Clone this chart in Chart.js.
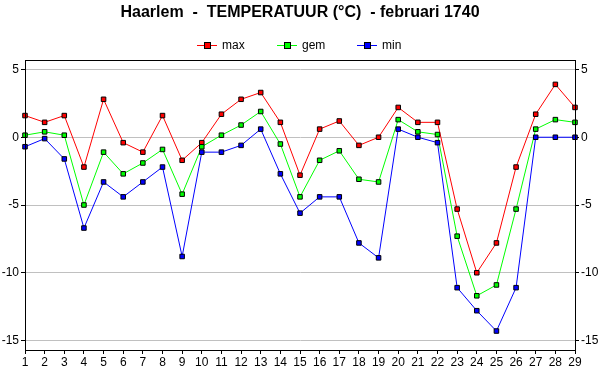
<!DOCTYPE html>
<html>
<head>
<meta charset="utf-8">
<script src="https://cdn.jsdelivr.net/npm/chart.js@4"></script>
<style>
  body { margin: 0; background: #fff; }
  #wrap { width: 600px; height: 390px; }
</style>
</head>
<body>
<div id="wrap"><canvas id="grafiek"></canvas></div>
<script>
// dagen van februari 1740
const dagen = ["1","2","3","4","5","6","7","8","9","10","11","12","13","14","15","16","17","18","19","20","21","22","23","24","25","26","27","28","29"];
const tMax = [1.6, 1.1, 1.6, -2.2, 2.8, -0.4, -1.1, 1.6, -1.7, -0.4, 1.7, 2.8, 3.3, 1.1, -2.8, 0.6, 1.2, -0.6, 0.0, 2.2, 1.1, 1.1, -5.3, -10.0, -7.8, -2.2, 1.7, 3.9, 2.2];
const tGem = [0.15, 0.4, 0.15, -5.0, -1.1, -2.7, -1.9, -0.9, -4.2, -0.7, 0.15, 0.9, 1.9, -0.5, -4.4, -1.7, -1.0, -3.1, -3.3, 1.3, 0.4, 0.2, -7.3, -11.7, -10.9, -5.3, 0.6, 1.3, 1.1];
const tMin = [-0.7, -0.1, -1.6, -6.7, -3.3, -4.4, -3.3, -2.2, -8.8, -1.1, -1.1, -0.6, 0.6, -2.7, -5.6, -4.4, -4.4, -7.8, -8.9, 0.6, 0.0, -0.4, -11.1, -12.8, -14.3, -11.1, 0.0, 0.0, 0.0];
const yTicks = [-15, -10, -5, 0, 5];

const fontNaam = "'Liberation Sans', Arial, sans-serif";

// legenda en kader zelf tekenen
const legendaPlugin = {
    id: "legenda",
    afterDraw(chart) {
        const ctx = chart.ctx;
        const ca = chart.chartArea;
        ctx.save();
        ctx.strokeStyle = "#000";
        ctx.lineWidth = 1;
        ctx.strokeRect(Math.round(ca.left) + 0.5, Math.round(ca.top) + 0.5,
            Math.round(ca.right - ca.left), Math.round(ca.bottom - ca.top));

        const y = 45;
        const items = [
            { tekst: "max", kleur: "#ff0000", x: 197 },
            { tekst: "gem", kleur: "#00ff00", x: 277 },
            { tekst: "min", kleur: "#0000ff", x: 357 }
        ];
        ctx.font = "12px " + fontNaam;
        ctx.textBaseline = "middle";
        items.forEach(it => {
            ctx.strokeStyle = it.kleur;
            ctx.beginPath();
            ctx.moveTo(it.x, y + 0.5);
            ctx.lineTo(it.x + 20, y + 0.5);
            ctx.stroke();
            ctx.fillStyle = it.kleur;
            ctx.fillRect(it.x + 8, y - 2, 5, 5);
            ctx.strokeStyle = "#000";
            ctx.strokeRect(it.x + 7.5, y - 2.5, 6, 6);
            ctx.fillStyle = "#000";
            ctx.fillText(it.tekst, it.x + 25, y + 1);
        });
        ctx.restore();
    }
};

function reeks(label, data, kleur) {
    return {
        label: label,
        data: data,
        borderColor: kleur,
        borderWidth: 1,
        backgroundColor: kleur,
        pointStyle: "rect",
        pointRadius: 3.2,
        pointBackgroundColor: kleur,
        pointBorderColor: "#000",
        pointBorderWidth: 1,
        tension: 0,
        fill: false
    };
}

document.addEventListener("DOMContentLoaded", () => {
    const ctx = document.getElementById("grafiek").getContext("2d");
    Chart.defaults.font.family = fontNaam;
    Chart.defaults.color = "#000";
    new Chart(ctx, {
        type: "line",
        data: {
            labels: dagen,
            datasets: [
                reeks("min", tMin, "#0000ff"),
                reeks("gem", tGem, "#00ff00"),
                reeks("max", tMax, "#ff0000")
            ]
        },
        options: {
            responsive: true,
            maintainAspectRatio: false,
            animation: false,
            layout: {
                padding: { left: 0, right: 0, top: 0, bottom: 18 }
            },
            plugins: {
                legend: { display: false },
                tooltip: { enabled: false },
                title: {
                    display: true,
                    text: "Haarlem  -  TEMPERATUUR (°C)  - februari 1740",
                    color: "#000",
                    font: { size: 16, weight: "bold" },
                    lineHeight: 1.2,
                    padding: { top: 3, bottom: 37.8 }
                }
            },
            scales: {
                x: {
                    offset: false,
                    grid: {
                        drawOnChartArea: false,
                        drawTicks: true,
                        tickLength: 4,
                        tickColor: "#000"
                    },
                    border: { display: true, color: "#000" },
                    ticks: {
                        autoSkip: false,
                        maxRotation: 0,
                        padding: 1,
                        font: { size: 12 }
                    },
                    afterFit(scale) { scale.height = 22; }
                },
                y: {
                    position: "left",
                    min: -15.7,
                    max: 5.7,
                    afterBuildTicks(scale) { scale.ticks = yTicks.map(v => ({ value: v })); },
                    grid: {
                        color: "#c0c0c0",
                        tickColor: "#000",
                        tickLength: 4,
                        lineWidth: 1
                    },
                    border: { display: true, color: "#000" },
                    ticks: { padding: 2, font: { size: 12 } },
                    afterFit(scale) { scale.width = 25; }
                },
                y2: {
                    position: "right",
                    min: -15.7,
                    max: 5.7,
                    afterBuildTicks(scale) { scale.ticks = yTicks.map(v => ({ value: v })); },
                    grid: {
                        drawOnChartArea: false,
                        tickColor: "#000",
                        tickLength: 4
                    },
                    border: { display: true, color: "#000" },
                    ticks: { padding: 2, font: { size: 12 } },
                    afterFit(scale) { scale.width = 25; }
                }
            }
        },
        plugins: [legendaPlugin]
    });
});
</script>
</body>
</html>
